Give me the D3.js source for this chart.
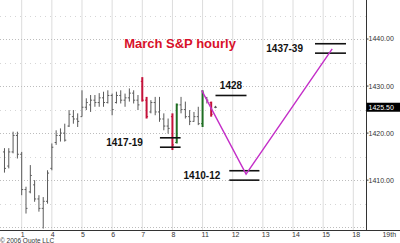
<!DOCTYPE html>
<html>
<head>
<meta charset="utf-8">
<script src="https://cdn.jsdelivr.net/npm/d3@7"></script>
<style>
  html, body { margin: 0; padding: 0; background: #fff; }
  svg { display: block; font-family: "Liberation Sans", Arial, sans-serif; }
</style>
</head>
<body>
<div id="chart"></div>
<script>
// day labels of the time axis, 7 hourly bars per day
const dayLabels = ['1', '4', '5', '6', '7', '8', '11', '12', '13', '14', '15', '18', '19th'];

// hourly bars
const opens = [1416, 1413, 1416, 1419.5, 1415.5, 1408, 1407.5, 1409, 1406, 1404,
    1405.5, 1412.5, 1418, 1419.5, 1420, 1421.5, 1423.5, 1423, 1423.5, 1425.5,
    1426, 1427, 1426.5, 1427.5, 1426.5, 1428, 1426.5, 1428, 1427, 1427.5,
    1428.5, 1427, 1431, 1427, 1424.5, 1426.5, 1424.5, 1423, 1421.5, 1423.5,
    1418, 1426, 1425, 1423.5, 1422.5, 1423.5, 1422, 1427.5, 1426.5, 1425.5];
const highs = [1416.8, 1416.8, 1420.3, 1420.3, 1416, 1408.6, 1413.2, 1410, 1406.8, 1406.4,
    1412.1, 1417.8, 1420.6, 1421, 1422, 1424.9, 1424.9, 1424.2, 1429.1, 1427.4,
    1428.1, 1428.1, 1428.5, 1428.8, 1429.1, 1428.4, 1428.8, 1429.1, 1428.4, 1429.5,
    1429.1, 1428.1, 1431.9, 1427.7, 1427, 1427.7, 1427.7, 1424.2, 1423.1, 1424.2,
    1426.3, 1427.7, 1426.7, 1424.9, 1424.5, 1425.6, 1429.1, 1427.7, 1426.7, 1425.8];
const lows = [1411.6, 1412.5, 1415.7, 1414.6, 1406.8, 1402.9, 1407.2, 1405.4, 1403.3, 1399.7,
    1405, 1412.1, 1417.5, 1418.2, 1418.2, 1421.3, 1422, 1421.3, 1423.5, 1424.9,
    1424.5, 1425.6, 1425.6, 1425.6, 1426.3, 1423.8, 1426.3, 1426.3, 1425.6, 1426.7,
    1426.3, 1424.9, 1426.7, 1423.1, 1424.2, 1423.8, 1422.4, 1420.6, 1419.9, 1416.4,
    1417.8, 1424.2, 1423.1, 1421.7, 1422.4, 1421.7, 1421.3, 1426.3, 1423.5, 1425.3];
const closes = [1412.5, 1416, 1419.5, 1415.5, 1408, 1404, 1411, 1406, 1404, 1405.5,
    1411.5, 1417, 1419.5, 1420, 1418.5, 1424, 1423, 1422.5, 1425.5, 1426.5,
    1427, 1426.5, 1427.5, 1426.5, 1428, 1425, 1428, 1427, 1427.5, 1428.5,
    1427, 1426, 1427, 1423.5, 1426.5, 1424.5, 1423, 1421.5, 1421, 1417.5,
    1426, 1425, 1423.5, 1422.5, 1423.5, 1422, 1428.5, 1427, 1424, 1425.5];
const redBars = [32, 33, 39, 48];
const greenBars = [40, 46];

// right price axis
const priceTicks = [1410, 1420, 1430, 1440];
const lastPrice = 1425.5;

// target zones: name, price levels, time span (in bars)
const targetNames = ['1428', '1437-39', '1417-19', '1410-12'];
const targetLevels = [[1428], [1437, 1439], [1417, 1419], [1410, 1412]];
const targetSpans = [[49.0, 56.2], [72.1, 79.3], [36.1, 40.9], [52.2, 59.2]];

// projected path
const pathBars = [45.8, 56.1, 76.1];
const pathPrices = [1429.1, 1411.3, 1437.9];

//dimensions
const width = 400, height = 243;
const plotRight = 366.5, plotBottom = 230;

const svg = d3.select('#chart')
    .append('svg')
    .attr('width', width)
    .attr('height', height);

//scales: bar index -> x, price -> y
const xScale = d3.scaleLinear().domain([4, 81]).range([21.7, 353.3]);
const yScale = d3.scaleLinear().domain([1399.4, 1448.3]).range([plotBottom, 0]);

const dayTicks = dayLabels.map((d, i) => 4 + 7 * i);

//vertical grid
svg.append('g')
    .selectAll('line')
    .data(dayTicks.filter(t => xScale(t) < plotRight))
    .join('line')
    .attr('x1', d => xScale(d)).attr('x2', d => xScale(d))
    .attr('y1', 0).attr('y2', plotBottom)
    .attr('stroke', '#dcdcdc')
    .attr('stroke-width', 1);

//horizontal grid, every 5 points
const gridPrices = d3.range(1400, 1450, 5);
svg.append('g')
    .selectAll('line')
    .data(gridPrices)
    .join('line')
    .attr('x1', 0).attr('x2', plotRight)
    .attr('y1', d => Math.round(yScale(d)) + 0.5)
    .attr('y2', d => Math.round(yScale(d)) + 0.5)
    .attr('stroke', d => d % 10 === 0 ? '#bdbdbd' : '#d6d6d6')
    .attr('stroke-dasharray', d => d % 10 === 0 ? '1,2' : '1,4');

//axes lines
svg.append('line')
    .attr('x1', 0).attr('x2', width)
    .attr('y1', plotBottom + 0.5).attr('y2', plotBottom + 0.5)
    .attr('stroke', '#333');
svg.append('line')
    .attr('x1', plotRight).attr('x2', plotRight)
    .attr('y1', 0).attr('y2', plotBottom)
    .attr('stroke', '#333');

//x labels
svg.append('g')
    .selectAll('text')
    .data(dayLabels)
    .join('text')
    .attr('x', (d, i) => xScale(dayTicks[i]) - 1)
    .attr('y', 236.5)
    .attr('font-size', 7)
    .attr('fill', '#333')
    .text(d => d);

//y labels
const yAxisG = svg.append('g');
yAxisG.selectAll('line')
    .data(priceTicks)
    .join('line')
    .attr('x1', plotRight).attr('x2', plotRight + 2)
    .attr('y1', d => yScale(d)).attr('y2', d => yScale(d))
    .attr('stroke', '#333');
yAxisG.selectAll('text')
    .data(priceTicks)
    .join('text')
    .attr('x', plotRight + 2)
    .attr('y', d => yScale(d))
    .attr('dy', '0.35em')
    .attr('font-size', 7)
    .attr('fill', '#333')
    .text(d3.format('.2f'));

//last price box
svg.append('rect')
    .attr('x', plotRight)
    .attr('y', yScale(lastPrice) - 4.5)
    .attr('width', width - plotRight)
    .attr('height', 9)
    .attr('fill', '#000');
svg.append('text')
    .attr('x', plotRight + 2)
    .attr('y', yScale(lastPrice))
    .attr('dy', '0.35em')
    .attr('font-size', 7)
    .attr('fill', '#fff')
    .text(d3.format('.2f')(lastPrice));

//copyright
svg.append('text')
    .attr('x', 0)
    .attr('y', 242.5)
    .attr('font-size', 6.5)
    .attr('fill', '#333')
    .text('\u00a9 2006 Quote LLC');

//bars
const bars = opens.map((o, i) => ({i: i, o: o, h: highs[i], l: lows[i], c: closes[i]}));
const barColor = d => redBars.includes(d.i) ? '#c4123a' : greenBars.includes(d.i) ? '#1f6e23' : '#5a5a5a';
const barWidth = d => (redBars.includes(d.i) || greenBars.includes(d.i)) ? 2 : 1;

const barG = svg.append('g')
    .selectAll('g')
    .data(bars)
    .join('g')
    .attr('stroke', barColor);
barG.append('line')
    .attr('x1', d => xScale(d.i)).attr('x2', d => xScale(d.i))
    .attr('y1', d => yScale(d.h)).attr('y2', d => yScale(d.l))
    .attr('stroke-width', barWidth);
barG.append('line')
    .attr('x1', d => xScale(d.i) - 1.5).attr('x2', d => xScale(d.i))
    .attr('y1', d => yScale(d.o)).attr('y2', d => yScale(d.o))
    .attr('stroke-width', 1);
barG.append('line')
    .attr('x1', d => xScale(d.i)).attr('x2', d => xScale(d.i) + 1.5)
    .attr('y1', d => yScale(d.c)).attr('y2', d => yScale(d.c))
    .attr('stroke-width', 1);

//target zones
const labelGap = [0, 12, 17, 9];
targetNames.forEach((name, k) => {
    const span = targetSpans[k];
    targetLevels[k].forEach(p => {
        svg.append('line')
            .attr('x1', xScale(span[0])).attr('x2', xScale(span[1]))
            .attr('y1', yScale(p)).attr('y2', yScale(p))
            .attr('stroke', '#111')
            .attr('stroke-width', 1.6);
    });
    const t = svg.append('text')
        .attr('font-size', 10)
        .attr('font-weight', 'bold')
        .attr('fill', '#111')
        .text(name);
    if (targetLevels[k].length === 1) {
        t.attr('x', (xScale(span[0]) + xScale(span[1])) / 2)
            .attr('y', yScale(targetLevels[k][0]) - 6)
            .attr('text-anchor', 'middle');
    } else {
        t.attr('x', xScale(span[0]) - labelGap[k])
            .attr('y', yScale(d3.min(targetLevels[k])) - 1.5)
            .attr('text-anchor', 'end');
    }
});

//projected path
svg.append('path')
    .datum(pathBars.map((b, i) => ({b: b, p: pathPrices[i]})))
    .attr('fill', 'none')
    .attr('stroke', '#c42fc8')
    .attr('stroke-width', 1.4)
    .attr('d', d3.line().x(d => xScale(d.b)).y(d => yScale(d.p)));

//title
svg.append('text')
    .attr('x', 180)
    .attr('y', 48)
    .attr('text-anchor', 'middle')
    .attr('font-size', 13)
    .attr('font-weight', 'bold')
    .attr('fill', '#d8102a')
    .text('March S&P hourly');
</script>
</body>
</html>
